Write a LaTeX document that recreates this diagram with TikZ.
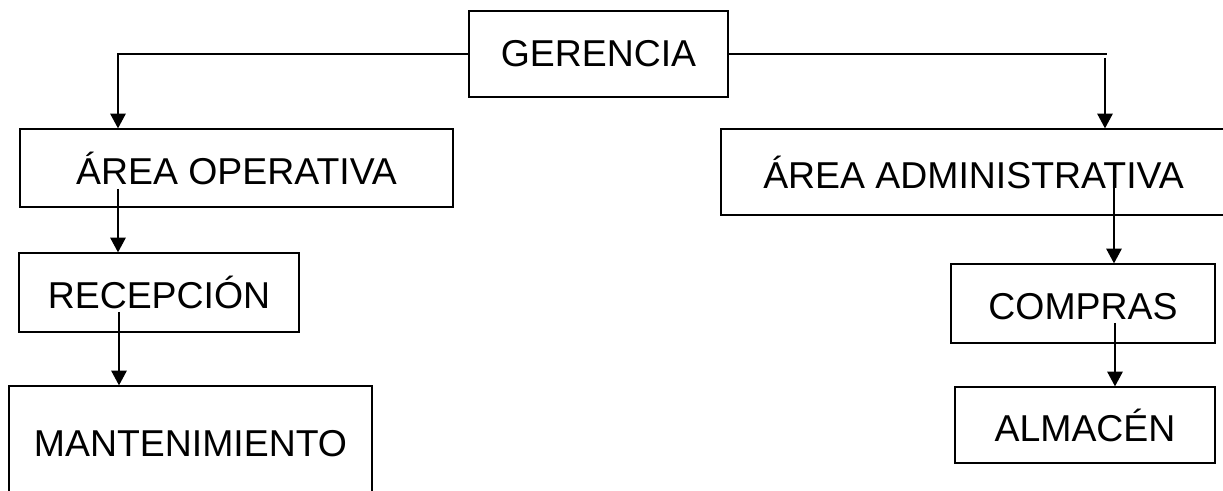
\documentclass[tikz,border=0pt]{standalone}
\usepackage{fontspec}
\setmainfont{Liberation Sans}
\usetikzlibrary{arrows.meta}

\begin{document}
\begin{tikzpicture}[
                x=0.025cm, y=-0.025cm,
                every node/.style={draw, line width=0.9pt, inner sep=0pt, align=center,
                    font=\fontsize{26.6}{32}\selectfont, text height=23pt, text depth=0pt},
                conn/.style={line width=1.1pt},
                arr/.style={conn, -{Triangle[width=11pt,length=10.5pt]}}
            ]
            \useasboundingbox (0,0) rectangle (1223,491);
            \clip (0,0) rectangle (1223,491);

            % Define nodes
            \node[minimum width=6.475cm, minimum height=2.15cm, text height=18pt] (ger) at (598.5,54) {GERENCIA};
            \node[minimum width=10.825cm, minimum height=1.95cm] (op) at (236.5,168) {ÁREA OPERATIVA};
            \node[minimum width=12.625cm, minimum height=2.15cm] (adm) at (973.5,172) {ÁREA ADMINISTRATIVA};
            \node[minimum width=7cm, minimum height=1.975cm] (rec) at (159,292.5) {RECEPCIÓN};
            \node[minimum width=9.075cm, minimum height=2.85cm, text height=19pt] (man) at (190.5,443) {MANTENIMIENTO};
            \node[minimum width=6.6cm, minimum height=1.975cm] (com) at (1083,303.5) {COMPRAS};
            \node[minimum width=6.5cm, minimum height=1.9cm] (alm) at (1085,425) {ALMACÉN};

            % Points where the lines leave or enter
            \coordinate (opin) at (118,0);
            \coordinate (rend) at (1107,0);
            \coordinate (admin) at (1105,58);
            \coordinate (opout) at (118,189);
            \coordinate (recout) at (119,312);
            \coordinate (admout) at (1114,188);
            \coordinate (comout) at (1115,323);

            % Arrows connecting boxes
            \draw[arr] (ger.west) -| (opin |- op.north);
            \draw[conn] (ger.east) -- (rend |- ger.east);
            \draw[arr] (admin) -- (admin |- adm.north);
            \draw[arr] (opout) -- (opout |- rec.north);
            \draw[arr] (recout) -- (recout |- man.north);
            \draw[arr] (admout) -- (admout |- com.north);
            \draw[arr] (comout) -- (comout |- alm.north);

        \end{tikzpicture}
\end{document}
